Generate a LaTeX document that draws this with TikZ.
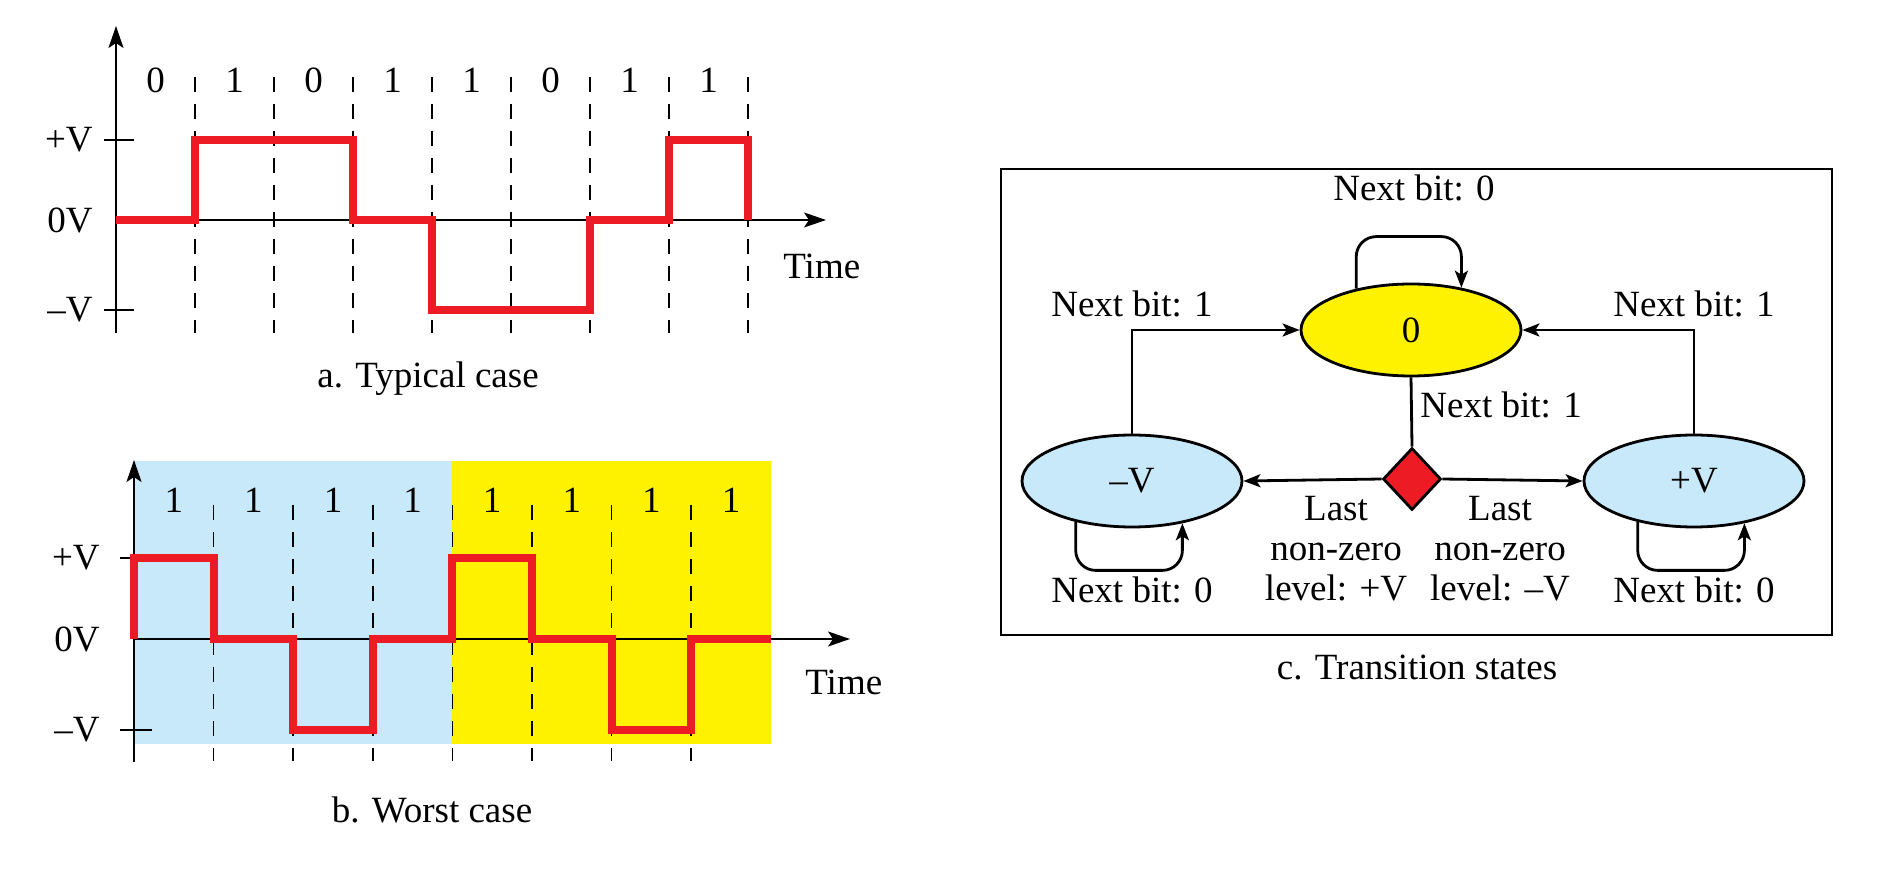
\documentclass[tikz,border=0pt]{standalone}
\usepackage{fontspec}
\setmainfont{Liberation Serif}
\usetikzlibrary{arrows.meta,shapes.geometric}
\definecolor{wred}{RGB}{237,28,36}
\definecolor{wyel}{RGB}{255,242,0}
\definecolor{wblue}{RGB}{200,233,249}
\begin{document}
\begin{tikzpicture}[x=0.5pt,y=-0.5pt,
  txt/.style={font=\fontsize{18.5}{20}\selectfont, inner sep=0pt},
  axisline/.style={line width=1pt, -{Stealth[length=11pt,width=7.5pt,inset=2.5pt]}},
  tickline/.style={line width=1pt},
  gridline/.style={line width=0.8pt, dash pattern=on 7.5pt off 6pt},
  wave/.style={wred, line width=4pt, line join=miter},
  conn/.style={line width=1.4pt, -{Stealth[length=8.5pt,width=6.5pt,inset=2pt]}},
  plainconn/.style={line width=1.4pt},
  state/.style={ellipse, draw, line width=1.4pt, minimum width=110pt, minimum height=46pt, inner sep=0pt, font=\fontsize{18.5}{20}\selectfont}
]
\path[use as bounding box] (0,0) rectangle (1878,886);

% ---------------- Panel a ----------------
\foreach \i in {1,...,8} \draw[gridline] ({116+79*\i},77) -- ({116+79*\i},333);
\foreach \b [count=\i from 0] in {0,1,0,1,1,0,1,1}
  \node[txt] (abit\i) at ({116+79*(\i+0.5)},80) {\b};
\draw[axisline] (116,333) -- (116,26);
\draw[axisline] (116,220) -- (826,220);
\draw[tickline] (104,140) -- (134,140);
\draw[tickline] (104,310) -- (134,310);
\node[txt,anchor=east] (apv) at (93,140) {+V};
\node[txt,anchor=east] (azv) at (93,220) {0V};
\node[txt,anchor=east] (amv) at (93,310) {–V};
\node[txt,anchor=west] (atime) at (783,266) {Time};
\draw[wave] (116,220) -- (195,220) -- (195,140) -- (353,140) -- (353,220) -- (432,220)
  -- (432,310) -- (590,310) -- (590,220) -- (669,220) -- (669,140) -- (748,140) -- (748,220);
\node[txt] (acap) at (428,379) {a. Typical case};

% ---------------- Panel b ----------------
\fill[wblue] (134,461) rectangle (452.4,744);
\fill[wyel] (452.4,461) rectangle (771,744);
\foreach \i in {1,...,7} \draw[gridline] ({134+79.6*\i},505) -- ({134+79.6*\i},761);
\foreach \i in {0,...,7}
  \node[txt] (bbit\i) at ({134+79.6*(\i+0.5)},500) {1};
\draw[axisline] (134,762) -- (134,460);
\draw[axisline] (134,639) -- (850,639);
\draw[tickline] (120,558) -- (134,558);
\draw[tickline] (120,730) -- (152,730);
\node[txt,anchor=east] (bpv) at (100,558) {+V};
\node[txt,anchor=east] (bzv) at (100,639) {0V};
\node[txt,anchor=east] (bmv) at (100,730) {–V};
\node[txt,anchor=west] (btime) at (805,682) {Time};
\draw[wave] (134,639) -- (134,558) -- (213.6,558) -- (213.6,639) -- (293.2,639) -- (293.2,730)
  -- (372.8,730) -- (372.8,639) -- (452.4,639) -- (452.4,558) -- (532,558) -- (532,639)
  -- (611.6,639) -- (611.6,730) -- (691.2,730) -- (691.2,639) -- (771,639);
\node[txt] (bcap) at (432,810) {b. Worst case};

% ---------------- Panel c ----------------
\draw[line width=1pt] (1001,169) rectangle (1832,635);
\node[state, fill=wyel] (z) at (1411,330) {0};
\node[state, fill=wblue] (m) at (1132,481) {–V};
\node[state, fill=wblue] (p) at (1694,481) {+V};
\node[diamond, draw, fill=wred, line width=1.4pt, inner sep=0pt, minimum width=29pt, minimum height=31pt] (d) at (1412,479) {};

\draw[plainconn] (z.south) -- (d.north);
\draw[conn] (d.west) -- (m.east);
\draw[conn] (d.east) -- (p.west);
\draw[conn] (m.north) |- (z.west);
\draw[conn] (p.north) |- (z.east);
\draw[conn, rounded corners=10pt] (z.143) |- ([yshift=23pt]z.north) -| (z.40);
\draw[conn, rounded corners=10pt] (m.216) |- ([yshift=-21pt]m.south) -| (m.320);
\draw[conn, rounded corners=10pt] (p.216) |- ([yshift=-21pt]p.south) -| (p.320);

\node[txt] (l0) at (1414,188) {Next bit: 0};
\node[txt] (l1) at (1132,304) {Next bit: 1};
\node[txt] (l2) at (1694,304) {Next bit: 1};
\node[txt,anchor=west] (l3) at (1420,405) {Next bit: 1};
\node[txt] (l4) at (1132,590) {Next bit: 0};
\node[txt] (l5) at (1694,590) {Next bit: 0};
\node[txt,align=center] (l6) at (1336,549) {Last\\non-zero\\level: +V};
\node[txt,align=center] (l7) at (1500,549) {Last\\non-zero\\level: –V};
\node[txt] (ccap) at (1417,668) {c. Transition states};
\end{tikzpicture}
\end{document}
